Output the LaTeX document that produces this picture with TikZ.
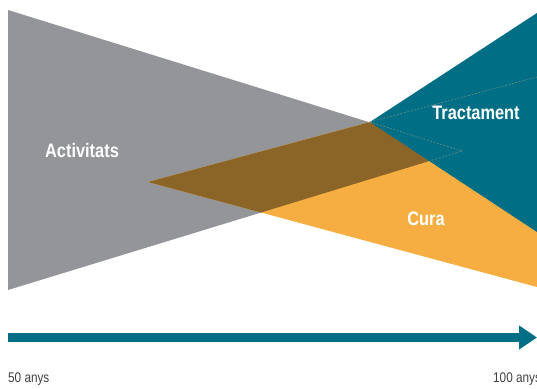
\documentclass[tikz,border=0pt]{standalone}
\usepackage{fontspec}
\setmainfont{Liberation Sans}[FakeStretch=0.84]
\usetikzlibrary{arrows.meta,calc}
\definecolor{cgray}{RGB}{147,149,152}
\definecolor{corange}{RGB}{246,174,66}
\definecolor{cbrown}{RGB}{139,101,39}
\definecolor{cteal}{RGB}{0,111,134}
\definecolor{cdash}{RGB}{112,140,128}
\tikzset{
  lbl/.style={text=white,font=\bfseries\fontsize{19.5}{21}\selectfont,inner sep=0pt},
  axislbl/.style={text=black!75,font=\fontsize{14}{16}\selectfont,inner sep=0pt},
  edge/.style={draw=cdash,line width=0.6pt,dash pattern=on 2pt off 1.5pt}
}
\begin{document}
\begin{tikzpicture}[x=1pt,y=-1pt]
\useasboundingbox (0,0) rectangle (537,388);
% coordinates
\coordinate (g1) at (8,10);
\coordinate (g2) at (8,290);
\coordinate (g3) at (462,151);
\coordinate (o1) at (148,182);
\coordinate (o2) at (537,77);
\coordinate (o3) at (537,287);
\coordinate (t1) at (370,122);
\coordinate (t2) at (537,13);
\coordinate (t3) at (537,232);
% shapes
\fill[cgray] (g1) -- (g3) -- (g2) -- cycle;
\fill[corange] (o1) -- (o2) -- (o3) -- cycle;
\begin{scope}
  \clip (g1) -- (g3) -- (g2) -- cycle;
  \fill[cbrown] (o1) -- (o2) -- (o3) -- cycle;
\end{scope}
\fill[cteal] (t1) -- (t2) -- (t3) -- cycle;
% dashed hidden edges
\coordinate (gx) at ($(g3)!0.07!(g2)$);
\draw[edge] (t1) -- (o2);
\draw[edge] (t1) -- (g3) -- (gx);
% labels
\node[lbl] (act) at (82,151) {Activitats};
\node[lbl] (tra) at (476,113) {Tractament};
\node[lbl] (cura) at (426,219) {Cura};
% axis
\coordinate (a0) at (8,337.5);
\coordinate (a1) at (537,337.5);
\draw[cteal,line width=9pt,-{Triangle[length=18pt,width=23pt]}] (a0) -- (a1);
\node[axislbl,anchor=base west] (l50) at (8,382) {50 anys};
\node[axislbl,anchor=base west] (l100) at (493,382) {100 anys};
\end{tikzpicture}
\end{document}
